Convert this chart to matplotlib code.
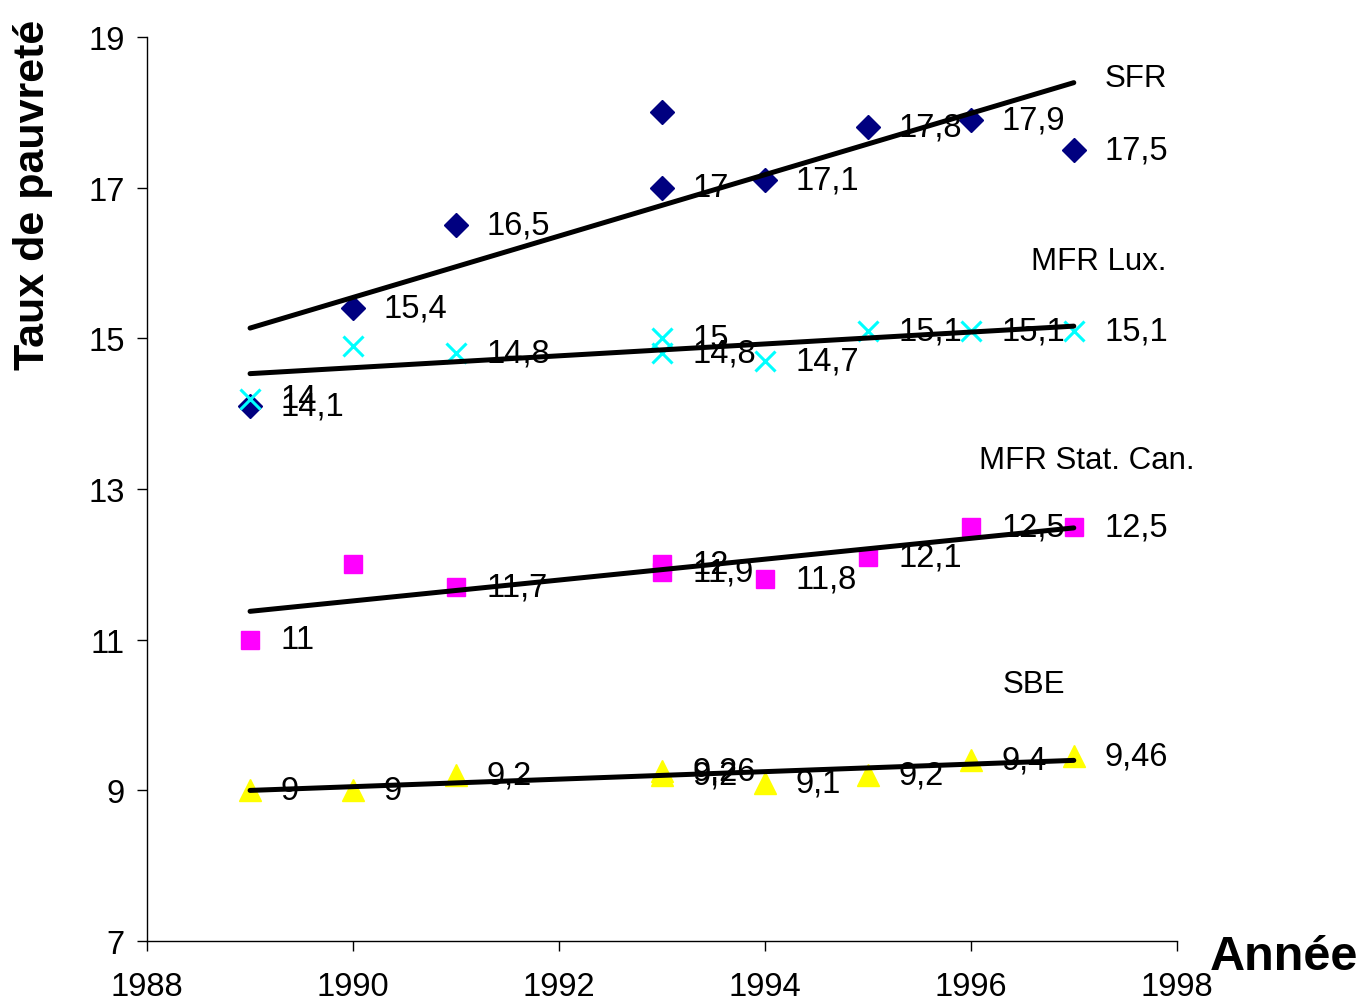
import numpy as np
import matplotlib
matplotlib.use("Agg")
import matplotlib.pyplot as plt

plt.rcParams['font.family'] = ['Liberation Sans', 'DejaVu Sans']

# data
years = [1989, 1990, 1991, 1993, 1993, 1994, 1995, 1996, 1997]

sfr = [14.1, 15.4, 16.5, 17.0, 18.0, 17.1, 17.8, 17.9, 17.5]
sfr_labels = ['14,1', '15,4', '16,5', '17', '', '17,1', '17,8', '17,9', '17,5']

lux = [14.2, 14.9, 14.8, 15.0, 14.8, 14.7, 15.1, 15.1, 15.1]
lux_labels = ['14', '', '14,8', '15', '14,8', '14,7', '15,1', '15,1', '15,1']

statcan = [11.0, 12.0, 11.7, 12.0, 11.9, 11.8, 12.1, 12.5, 12.5]
statcan_labels = ['11', '', '11,7', '12', '11,9', '11,8', '12,1', '12,5', '12,5']

sbe = [9.0, 9.0, 9.2, 9.2, 9.26, 9.1, 9.2, 9.4, 9.46]
sbe_labels = ['9', '9', '9,2', '9,2', '9,26', '9,1', '9,2', '9,4', '9,46']

x_ticks = [1988, 1990, 1992, 1994, 1996, 1998]
y_ticks = [7, 9, 11, 13, 15, 17, 19]

fig = plt.figure(figsize=(13.62, 10.03), dpi=100)
ax = fig.add_axes([0.108, 0.061, 0.756, 0.901])

series = [
    (sfr, sfr_labels, dict(marker='D', color='#000080', ms=12.5, ls='none')),
    (lux, lux_labels, dict(marker='x', color='#00FFFF', ms=14, mew=2.2, ls='none')),
    (statcan, statcan_labels, dict(marker='s', color='#FF00FF', ms=13, ls='none')),
    (sbe, sbe_labels, dict(marker='^', color='#FFFF00', ms=16, ls='none')),
]

x = np.array(years, dtype=float)
for vals, labels, style in series:
    ax.plot(x, vals, zorder=2, **style)
    # linear trend line (Excel style) over the data range
    coef = np.polyfit(x, vals, 1)
    xx = np.array([x.min(), x.max()])
    ax.plot(xx, np.polyval(coef, xx), color='black', lw=3.6,
            solid_capstyle='round', zorder=3)
    for xi, yi, lab in zip(x, vals, labels):
        if lab:
            ax.annotate(lab, (xi, yi), xytext=(22, 0), textcoords='offset points',
                        ha='left', va='center', fontsize=23.5, zorder=4)

# series names
ax.text(1997.3, 18.46, 'SFR', fontsize=22.5, ha='left', va='center')
ax.text(1997.9, 16.03, 'MFR Lux.', fontsize=22.5, ha='right', va='center')
ax.text(1998.17, 13.38, 'MFR Stat. Can.', fontsize=22.5, ha='right', va='center')
ax.text(1996.31, 10.41, 'SBE', fontsize=22.5, ha='left', va='center')

ax.set_xlim(1988, 1998)
ax.set_ylim(7, 19)
ax.set_xticks(x_ticks)
ax.set_yticks(y_ticks)
ax.tick_params(axis='both', labelsize=23.5, length=7, width=1, direction='out')
ax.tick_params(axis='y', pad=9)
ax.tick_params(axis='x', pad=15)
for s in ['top', 'right']:
    ax.spines[s].set_visible(False)
for s in ['left', 'bottom']:
    ax.spines[s].set_linewidth(1)

fig.text(33 / 1362, 1 - 195 / 1003, 'Taux de pauvreté', rotation=90,
         fontsize=31, fontweight='bold', ha='center', va='center')
fig.text(1284 / 1362, 1 - 958 / 1003, 'Année', fontsize=35,
         fontweight='bold', ha='center', va='center')

fig.savefig('out.png', dpi=100)
